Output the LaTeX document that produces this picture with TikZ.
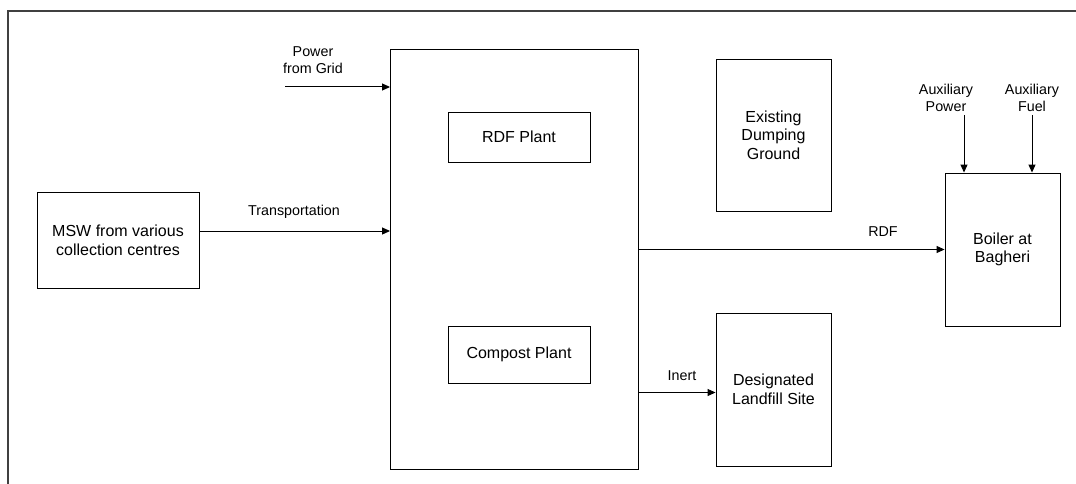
\documentclass[tikz,border=0pt]{standalone}
\usepackage{fontspec}
\setmainfont{Liberation Sans}
\usetikzlibrary{arrows.meta,calc}
\begin{document}
\begin{tikzpicture}[x=1pt,y=-1pt,
  box/.style={draw=black,line width=0.9pt,inner sep=0pt,align=center,
    font=\fontsize{16}{18.7}\selectfont},
  lbl/.style={align=center,inner sep=0pt,font=\fontsize{14.3}{16.5}\selectfont},
  arr/.style={draw=black,line width=1pt,-{Triangle[length=8pt,width=7pt]}},
  frame/.style={draw=black!75,line width=1.2pt}]
\useasboundingbox (0,0) rectangle (1076,484);
\draw[frame] (8,484) -- (8,11) -- (1076,11);
\node[box,minimum width=162pt,minimum height=96pt] (msw) at (118,240) {MSW from various\\collection centres};
\node[box,minimum width=248pt,minimum height=420pt] (main) at (514.5,259) {};
\node[box,minimum width=142pt,minimum height=50pt] (rdfp) at (519,137) {RDF Plant};
\node[box,minimum width=142pt,minimum height=57pt] (comp) at (519,354.5) {Compost Plant};
\node[box,minimum width=115pt,minimum height=152pt] (dump) at (773.5,135) {Existing\\Dumping\\Ground};
\node[box,minimum width=115pt,minimum height=153pt] (land) at (773.5,389.5) {Designated\\Landfill Site};
\node[box,minimum width=115pt,minimum height=153pt] (boil) at (1002.5,249.5) {Boiler at\\Bagheri};
\coordinate (pg) at (285,87);
\coordinate (ap) at (964,115);
\coordinate (af) at (1032,115);
\draw[arr] (pg) -- (pg -| main.west);
\draw[arr] ([yshift=9pt]msw.east) -- ([yshift=9pt]msw.east -| main.west);
\draw[arr] (main.east |- boil.west) -- (boil.west);
\draw[arr] ([yshift=-3pt]main.east |- land.west) -- ([yshift=-3pt]land.west);
\draw[arr] (ap) -- (ap |- boil.north);
\draw[arr] (af) -- (af |- boil.north);
\node[lbl] (lpg) at (313,60) {Power\\from Grid};
\node[lbl] (ltr) at (294,212) {Transportation};
\node[lbl] (lrdf) at (883,232) {RDF};
\node[lbl] (lin) at (682,376) {Inert};
\node[lbl] (lap) at (946,98) {Auxiliary\\Power};
\node[lbl] (laf) at (1032,98) {Auxiliary\\Fuel};
\end{tikzpicture}
\end{document}
